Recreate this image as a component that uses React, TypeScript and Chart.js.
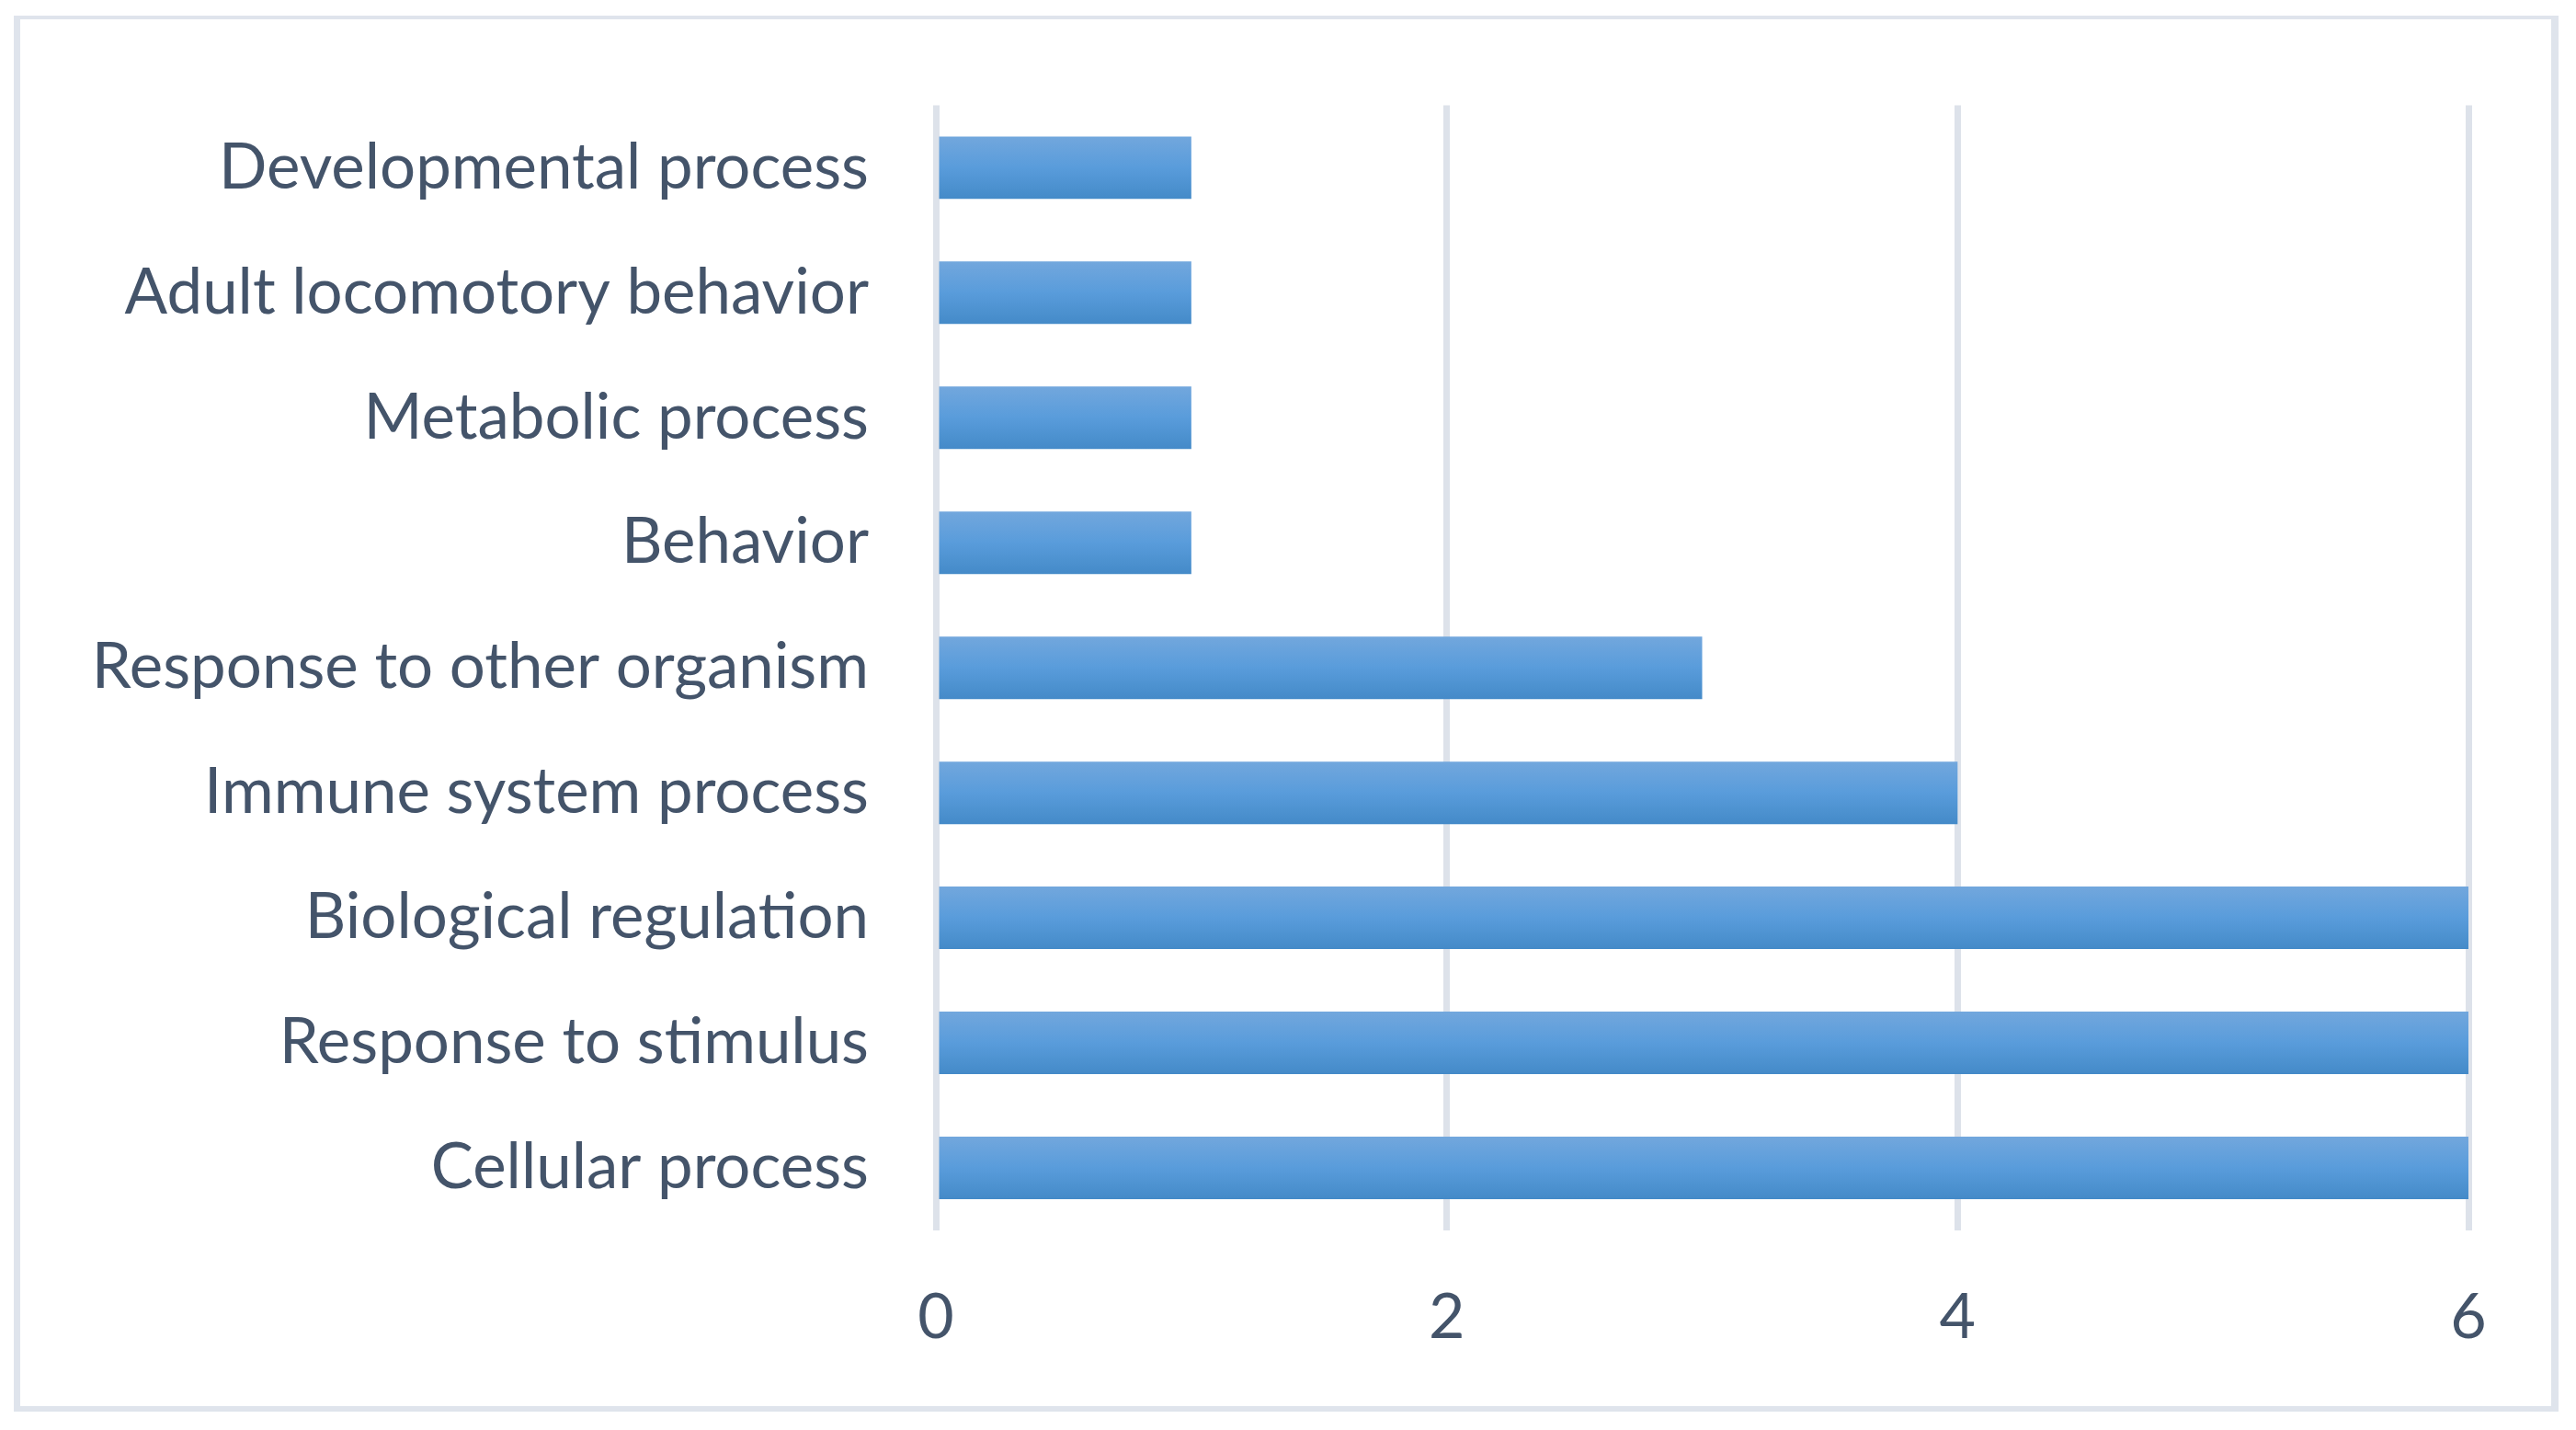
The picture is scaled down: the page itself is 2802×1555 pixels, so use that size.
import React, { useEffect, useRef } from "react";
import { Chart, registerables } from "chart.js";

Chart.register(...registerables);

const categories: string[] = [
  "Developmental process",
  "Adult locomotory behavior",
  "Metabolic process",
  "Behavior",
  "Response to other organism",
  "Immune system process",
  "Biological regulation",
  "Response to stimulus",
  "Cellular process",
];

const counts: number[] = [1, 1, 1, 1, 3, 4, 6, 6, 6];

const xTicks: number[] = [0, 2, 4, 6];

const TEXT = "#44546a";
const GRID = "#dde2ea";

export default function App() {
  const ref = useRef<HTMLCanvasElement | null>(null);

  useEffect(() => {
    const canvas = ref.current;
    if (!canvas) return;
    const chart = new Chart(canvas, {
      type: "bar",
      data: {
        labels: categories,
        datasets: [
          {
            data: counts,
            barPercentage: 0.5,
            categoryPercentage: 1,
            borderWidth: 0,
            backgroundColor: (ctx: any) => {
              const c = ctx.chart;
              const yScale = c.scales?.y;
              if (!c.chartArea || !yScale) return "#5b9bd5";
              const center = yScale.getPixelForValue(ctx.dataIndex);
              const half = (yScale.height / categories.length) * 0.25;
              const g = c.ctx.createLinearGradient(0, center - half, 0, center + half);
              g.addColorStop(0, "#72a7dd");
              g.addColorStop(0.5, "#599cdb");
              g.addColorStop(1, "#448ac8");
              return g;
            },
          },
        ],
      },
      options: {
        indexAxis: "y",
        animation: false,
        responsive: false,
        devicePixelRatio: 1,
        layout: { padding: { top: 104, right: 117, left: 0, bottom: 0 } },
        plugins: {
          legend: { display: false },
          tooltip: { enabled: false },
          title: { display: false },
        },
        scales: {
          x: {
            type: "linear",
            min: xTicks[0],
            max: xTicks[xTicks.length - 1],
            afterBuildTicks: (scale: any) => {
              scale.ticks = xTicks.map((v) => ({ value: v }));
            },
            afterFit: (scale: any) => {
              scale.height = 217;
            },
            grid: { color: GRID, lineWidth: 7, drawTicks: false },
            border: { display: false },
            ticks: {
              color: TEXT,
              padding: 54,
              font: { family: "Lato", size: 68 },
            },
          },
          y: {
            afterFit: (scale: any) => {
              scale.width = 1018;
            },
            grid: { display: false, drawTicks: false },
            border: { display: false },
            ticks: {
              color: TEXT,
              padding: 73,
              font: { family: "Lato", size: 69 },
            },
          },
        },
      },
    } as any);
    return () => chart.destroy();
  }, []);

  return (
    <div
      style={{
        position: "fixed",
        left: 0,
        top: 0,
        width: 2802,
        height: 1555,
        background: "#ffffff",
      }}
    >
      <canvas ref={ref} width={2802} height={1555} style={{ position: "absolute", left: 0, top: 0, width: 2802, height: 1555 }} />
      <div
        style={{
          position: "absolute",
          left: 15,
          top: 17,
          width: 2783 - 15,
          height: 1535 - 17,
          boxSizing: "border-box",
          borderStyle: "solid",
          borderColor: "#dfe4ec",
          borderLeftWidth: 7,
          borderRightWidth: 8,
          borderTopWidth: 4,
          borderBottomWidth: 6,
          pointerEvents: "none",
        }}
      />
    </div>
  );
}
